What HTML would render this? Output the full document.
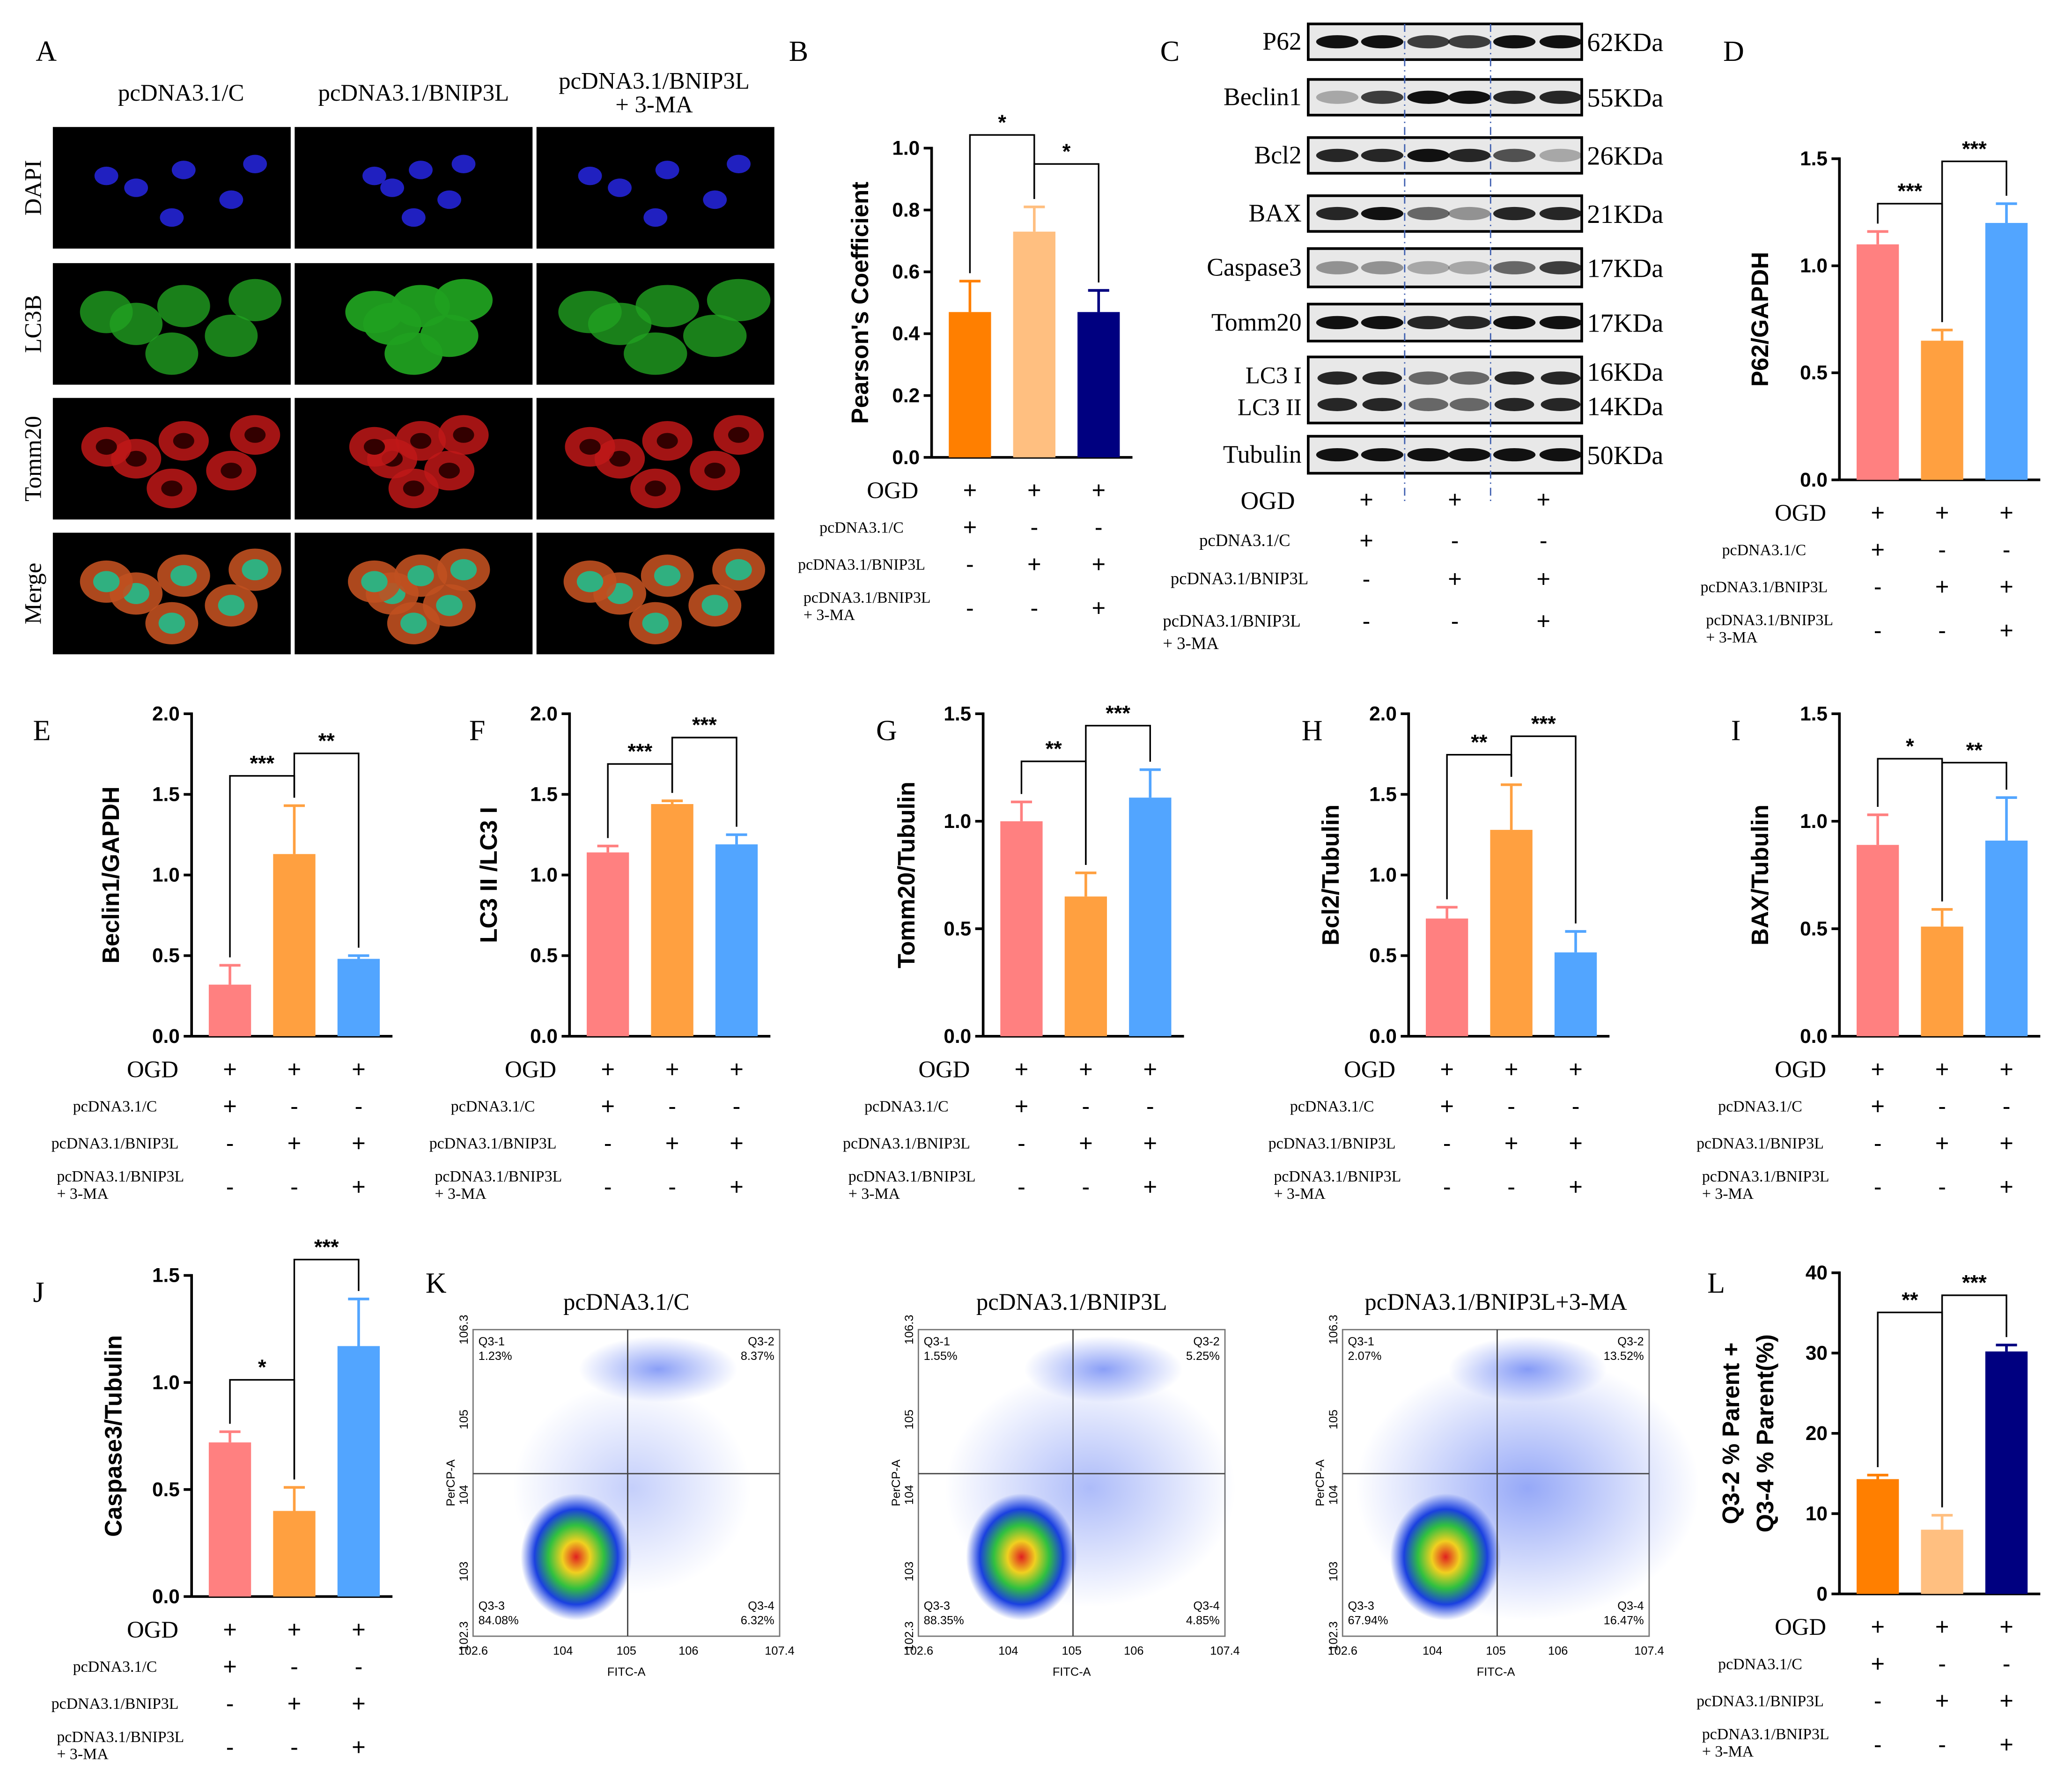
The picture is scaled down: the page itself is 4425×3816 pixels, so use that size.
<!DOCTYPE html>
<html><head><meta charset="utf-8"><style>
html,body{margin:0;padding:0;background:#fff}
svg{display:block}
.ser{font-family:"Liberation Serif",serif}
.san{font-family:"Liberation Sans",sans-serif}
</style></head><body>
<svg id="fig" xmlns="http://www.w3.org/2000/svg" width="4425" height="3816" viewBox="0 0 1568 1352">
<defs>
<radialGradient id="flow" cx="50%" cy="50%" r="50%">
<stop offset="0" stop-color="#e02020"/><stop offset="0.25" stop-color="#f0d020"/><stop offset="0.5" stop-color="#30c040"/><stop offset="0.75" stop-color="#1a40e0"/><stop offset="1" stop-color="#1a40e0" stop-opacity="0"/>
</radialGradient>
<radialGradient id="cloud" cx="50%" cy="50%" r="50%">
<stop offset="0" stop-color="#2a50f0" stop-opacity="0.55"/><stop offset="1" stop-color="#2a50f0" stop-opacity="0"/>
</radialGradient>
</defs>
<g id="root"></g>
</svg>
<script>
// ---------- chart data ----------
const groups = ["pcDNA3.1/C","pcDNA3.1/BNIP3L","pcDNA3.1/BNIP3L + 3-MA"];
const valsB = [0.47,0.73,0.47], errB = [0.10,0.08,0.07];
const valsD = [1.10,0.65,1.20], errD = [0.06,0.05,0.09];
const valsE = [0.32,1.13,0.48], errE = [0.12,0.30,0.02];
const valsF = [1.14,1.44,1.19], errF = [0.04,0.02,0.06];
const valsG = [1.00,0.65,1.11], errG = [0.09,0.11,0.13];
const valsH = [0.73,1.28,0.52], errH = [0.07,0.28,0.13];
const valsI = [0.89,0.51,0.91], errI = [0.14,0.08,0.20];
const valsJ = [0.72,0.40,1.17], errJ = [0.05,0.11,0.22];
const valsL = [14.3,8.0,30.2], errL = [0.5,1.8,0.8];
const ticks1 = ["0.0","0.2","0.4","0.6","0.8","1.0"];
const ticks15 = ["0.0","0.5","1.0","1.5"];
const ticks20 = ["0.0","0.5","1.0","1.5","2.0"];
const ticks40 = ["0","10","20","30","40"];
const signsOGD = ["+","+","+"], signsC = ["+","-","-"], signsB3 = ["-","+","+"], signsMA = ["-","-","+"];
const flowQuad = [["1.23%","8.37%","84.08%","6.32%"],["1.55%","5.25%","88.35%","4.85%"],["2.07%","13.52%","67.94%","16.47%"]];

const NS="http://www.w3.org/2000/svg";
const root=document.getElementById('root');
function el(tag,attrs,parent,text){const e=document.createElementNS(NS,tag);for(const k in attrs)e.setAttribute(k,attrs[k]);if(text!==undefined)e.textContent=text;(parent||root).appendChild(e);return e;}
function txt(x,y,s,size,cls,anchor,parent,extra){const t=el('text',Object.assign({x:x,y:y,'font-size':size,class:cls,'text-anchor':anchor||'middle'},extra||{}),parent,s);return t;}

const warm=["#FF8080","#FFA040","#52A5FF"], orng=["#FF7F00","#FFBF80","#000080"];

function barChart(o){
  const g=el('g',{});
  
  
  const ymax=o.max, y0=o.y0, yt=o.yt;
  const Y=v=>y0-(v/ymax)*(y0-yt);
  const X=i=>o.ax+29+i*48.7;
  // axis
  el('line',{x1:o.ax,y1:yt-1,x2:o.ax,y2:y0,stroke:'#000','stroke-width':2},g);
  el('line',{x1:o.ax,y1:y0,x2:o.ax+152,y2:y0,stroke:'#000','stroke-width':2},g);
  o.ticks.forEach((t,i)=>{const v=ymax*i/(o.ticks.length-1);const y=Y(v);
    el('line',{x1:o.ax-6,y1:y,x2:o.ax,y2:y,stroke:'#000','stroke-width':2},g);
    txt(o.ax-9,y+5,t,15,'san','end',g,{'font-weight':'bold'});});
  const yl=txt(0,0,o.ytitle,18,'san','middle',g,{'font-weight':'bold',transform:`translate(${o.tx},${(yt+y0)/2}) rotate(-90)`});
  if(o.ytitle2){txt(0,0,o.ytitle2,18,'san','middle',g,{'font-weight':'bold',transform:`translate(${o.tx+26},${(yt+y0)/2}) rotate(-90)`});}
  o.vals.forEach((v,i)=>{const x=X(i);
    const b=el('rect',{x:x-16,y:Y(v),width:32,height:y0-Y(v),fill:o.colors[i]},g);
    
    
    const ye=Y(v+o.errs[i]);
    el('line',{x1:x,y1:Y(v),x2:x,y2:ye,stroke:o.colors[i],'stroke-width':2},g);
    el('line',{x1:x-8,y1:ye,x2:x+8,y2:ye,stroke:o.colors[i],'stroke-width':2},g);
  });
  o.br.forEach(b=>{const x1=X(b[0]),x2=X(b[1]);
    const ya=Y(o.vals[b[0]]+o.errs[b[0]])-6, yb=Y(o.vals[b[1]]+o.errs[b[1]])-6;
    el('polyline',{points:`${x1},${ya} ${x1},${b[2]} ${x2},${b[2]} ${x2},${yb}`,fill:'none',stroke:'#000','stroke-width':1.2},g);
    txt((x1+x2)/2,b[2]-4,b[3],16,'san','middle',g,{'font-weight':'bold'});});
  signTable(g,o.ax,y0,o.lx,X);
}
function signTable(g,ax,y0,lx,X){
  const r=[y0+25,y0+53,y0+81,y0+114];
  txt(ax-10,r[0]+6,"OGD",18,'ser','end',g);
  txt(lx,r[1]+4,"pcDNA3.1/C",12,'ser','middle',g);
  txt(lx,r[2]+4,"pcDNA3.1/BNIP3L",12,'ser','middle',g);
  txt(lx-44,r[3]-4,"pcDNA3.1/BNIP3L",12,'ser','start',g);
  txt(lx-44,r[3]+9,"+ 3-MA",12,'ser','start',g);
  [signsOGD,signsC,signsB3,signsMA].forEach((s,j)=>s.forEach((c,i)=>txt(X(i),r[j]+6,c,18,'san','middle',g)));
}

barChart({name:'chart-b-pearson',ax:705,yt:112,y0:346,max:1.0,ticks:ticks1,vals:valsB,errs:errB,colors:orng,br:[[0,1,102,'*'],[1,2,124,'*']],ytitle:"Pearson's Coefficient",tx:657,lx:652});
barChart({name:'chart-d-p62',ax:1392,yt:120,y0:363,max:1.5,ticks:ticks15,vals:valsD,errs:errD,colors:warm,br:[[0,1,154,'***'],[1,2,122,'***']],ytitle:"P62/GAPDH",tx:1338,lx:1335});
barChart({name:'chart-e-beclin1',ax:145,yt:540,y0:784,max:2.0,ticks:ticks20,vals:valsE,errs:errE,colors:warm,br:[[0,1,587,'***'],[1,2,570,'**']],ytitle:"Beclin1/GAPDH",tx:90,lx:87});
barChart({name:'chart-f-lc3',ax:431,yt:540,y0:784,max:2.0,ticks:ticks20,vals:valsF,errs:errF,colors:warm,br:[[0,1,578,'***'],[1,2,558,'***']],ytitle:"LC3 II /LC3 I",tx:376,lx:373});
barChart({name:'chart-g-tomm20',ax:744,yt:540,y0:784,max:1.5,ticks:ticks15,vals:valsG,errs:errG,colors:warm,br:[[0,1,576,'**'],[1,2,549,'***']],ytitle:"Tomm20/Tubulin",tx:692,lx:686});
barChart({name:'chart-h-bcl2',ax:1066,yt:540,y0:784,max:2.0,ticks:ticks20,vals:valsH,errs:errH,colors:warm,br:[[0,1,571,'**'],[1,2,557,'***']],ytitle:"Bcl2/Tubulin",tx:1013,lx:1008});
barChart({name:'chart-i-bax',ax:1392,yt:540,y0:784,max:1.5,ticks:ticks15,vals:valsI,errs:errI,colors:warm,br:[[0,1,574,'*'],[1,2,577,'**']],ytitle:"BAX/Tubulin",tx:1338,lx:1332});
barChart({name:'chart-j-caspase3',ax:145,yt:965,y0:1208,max:1.5,ticks:ticks15,vals:valsJ,errs:errJ,colors:warm,br:[[0,1,1044,'*'],[1,2,953,'***']],ytitle:"Caspase3/Tubulin",tx:92,lx:87});
barChart({name:'chart-l-apoptosis',ax:1392,yt:963,y0:1206,max:40,ticks:ticks40,vals:valsL,errs:errL,colors:orng,br:[[0,1,993,'**'],[1,2,980,'***']],ytitle:"Q3-2 % Parent +",ytitle2:"Q3-4 % Parent(%)",tx:1316,lx:1332});

// ---------- panel letters ----------
[["A",27,46],["B",597,46],["C",878,46],["D",1304,46],["E",25,560],["F",355,560],["G",663,560],["H",985,560],["I",1310,560],["J",25,985],["K",322,978],["L",1292,978]].forEach(p=>{
  const t=txt(p[1],p[2],p[0],22,'ser','start');
  
  
});

// ---------- panel A micrographs ----------
const gA=el('g',{});


txt(137,76,"pcDNA3.1/C",18,'ser','middle',gA);
txt(313,76,"pcDNA3.1/BNIP3L",18,'ser','middle',gA);
txt(495,67,"pcDNA3.1/BNIP3L",18,'ser','middle',gA);
txt(495,85,"+ 3-MA",18,'ser','middle',gA);
const colsA=[40,223,406], rowsA=[[96,"DAPI"],[199,"LC3B"],[301,"Tomm20"],[403,"Merge"]];
const cells=[[70,140,0],[110,125,1],[150,150,2],[100,165,1],[170,120,0],[45,130,2]];
rowsA.forEach((r,ri)=>{
  txt(0,0,r[1],18,'ser','middle',gA,{transform:`translate(31,${r[0]+46}) rotate(-90)`});
  colsA.forEach((cx,ci)=>{
    el('rect',{x:cx,y:r[0],width:180,height:92,fill:'#000'},gA);
    const spread=ci==1?0.6:1;
    cells.forEach((c,k)=>{
      const x=cx+90+(c[0]-100)*spread*0.9, y=r[0]+46+(c[1]-140)*0.9;
      if(ri==0) el('ellipse',{cx:x,cy:y,rx:9,ry:7,fill:'#2020c0'},gA);
      if(ri==1) el('ellipse',{cx:x,cy:y,rx:20+ci*2,ry:16,fill:'#20a020',opacity:ci==1?0.95:0.8},gA);
      if(ri==2) {el('ellipse',{cx:x,cy:y,rx:19,ry:15,fill:'#c01818',opacity:0.85},gA);el('ellipse',{cx:x,cy:y,rx:8,ry:6,fill:'#300'},gA);}
      if(ri==3) {el('ellipse',{cx:x,cy:y,rx:20,ry:16,fill:'#c05020',opacity:0.9},gA);el('ellipse',{cx:x,cy:y,rx:10,ry:8,fill:'#30b080'},gA);}
    });
  });
});

// ---------- panel C blots ----------
const gC=el('g',{});


const blots=[["P62",18,45,"62KDa",[1,1,.8,.8,1,1]],["Beclin1",60,87,"55KDa",[.3,.8,1,1,.9,.9]],["Bcl2",104,131,"26KDa",[.9,.9,1,.9,.7,.3]],["BAX",148,175,"21KDa",[.9,1,.6,.4,.9,.9]],["Caspase3",188,217,"17KDa",[.4,.4,.3,.3,.6,.8]],["Tomm20",230,258,"17KDa",[1,1,.9,.9,1,1]],["LC3",270,320,"",[.9,.9,.6,.6,.9,.9]],["Tubulin",330,358,"50KDa",[1,1,1,1,1,1]]];
const lanes=[1012,1046,1081,1112,1146,1181];
blots.forEach(b=>{
  el('rect',{x:990,y:b[1],width:207,height:b[2]-b[1],fill:'#e8e8e8',stroke:'#000','stroke-width':2},gC);
  if(b[0]==="LC3"){
    [286,306].forEach(yy=>lanes.forEach((lx,i)=>el('ellipse',{cx:lx,cy:yy,rx:15,ry:5,fill:'#111',opacity:b[4][i]},gC)));
    txt(985,290,"LC3 I",18,'ser','end',gC);txt(985,314,"LC3 II",18,'ser','end',gC);
    txt(1201,288,"16KDa",20,'ser','start',gC);txt(1201,314,"14KDa",20,'ser','start',gC);
  } else {
    const cy=(b[1]+b[2])/2;
    lanes.forEach((lx,i)=>el('ellipse',{cx:lx,cy:cy,rx:16,ry:5,fill:'#111',opacity:b[4][i]},gC));
    txt(985,cy+6,b[0],19,'ser','end',gC);
    txt(1201,cy+7,b[3],20,'ser','start',gC);
  }
});
[1063,1128].forEach(x=>el('line',{x1:x,y1:18,x2:x,y2:380,stroke:'#4060b0','stroke-width':1,'stroke-dasharray':'6,3,1,3'},gC));
(function(){const X=i=>1034+i*67;const r=[378,409,438,470];
 txt(980,r[0]+7,"OGD",19,'ser','end',gC);
 txt(942,r[1]+4,"pcDNA3.1/C",13,'ser','middle',gC);
 txt(938,r[2]+4,"pcDNA3.1/BNIP3L",13,'ser','middle',gC);
 txt(880,r[3]+4,"pcDNA3.1/BNIP3L",13,'ser','start',gC);
 txt(880,r[3]+21,"+ 3-MA",13,'ser','start',gC);
 [signsOGD,signsC,signsB3,signsMA].forEach((s,j)=>s.forEach((c,i)=>txt(X(i),r[j]+6,c,18,'san','middle',gC)));
})();

// ---------- panel K flow ----------
const titlesK=["pcDNA3.1/C","pcDNA3.1/BNIP3L","pcDNA3.1/BNIP3L+3-MA"];
[358,695,1016].forEach((bx,k)=>{
  const g=el('g',{});
  
  
  const w=232,h=232,by=1006,qx=bx+117,qy=by+109;
  txt(bx+116,991,titlesK[k],18,'ser','middle',g);
  el('rect',{x:bx,y:by,width:w,height:h,fill:'#fff',stroke:'#777','stroke-width':1},g);
  el('ellipse',{cx:bx+120+k*10,cy:by+120,rx:90+k*20,ry:80+k*10,fill:'url(#cloud)',opacity:0.5+k*0.2},g);
  el('ellipse',{cx:bx+140,cy:by+30,rx:60,ry:25,fill:'url(#cloud)'},g);
  el('ellipse',{cx:bx+78,cy:by+172,rx:42,ry:48,fill:'url(#flow)'},g);
  el('line',{x1:qx,y1:by,x2:qx,y2:by+h,stroke:'#444','stroke-width':1},g);
  el('line',{x1:bx,y1:qy,x2:bx+w,y2:qy,stroke:'#444','stroke-width':1},g);
  const q=flowQuad[k];
  txt(bx+4,by+12,"Q3-1",9,'san','start',g);txt(bx+4,by+23,q[0],9,'san','start',g);
  txt(bx+w-4,by+12,"Q3-2",9,'san','end',g);txt(bx+w-4,by+23,q[1],9,'san','end',g);
  txt(bx+4,by+h-20,"Q3-3",9,'san','start',g);txt(bx+4,by+h-9,q[2],9,'san','start',g);
  txt(bx+w-4,by+h-20,"Q3-4",9,'san','end',g);txt(bx+w-4,by+h-9,q[3],9,'san','end',g);
  txt(bx+w/2,by+h+30,"FITC-A",9,'san','middle',g);
  txt(0,0,"PerCP-A",9,'san','middle',g,{transform:`translate(${bx-14},${by+h/2}) rotate(-90)`});
  ["10^2.6","10^4","10^5","10^6","10^7.4"].forEach((t,i)=>{const xs=[0,68,116,163,232][i];txt(bx+xs,by+h+14,t.replace('^',''),9,'san','middle',g);});
  ["10^2.3","10^3","10^4","10^5","10^6.3"].forEach((t,i)=>{const ys=[232,183,125,68,0][i];txt(0,0,t.replace('^',''),9,'san','middle',g,{transform:`translate(${bx-4},${by+ys}) rotate(-90)`});});
});
</script>
</body></html>
